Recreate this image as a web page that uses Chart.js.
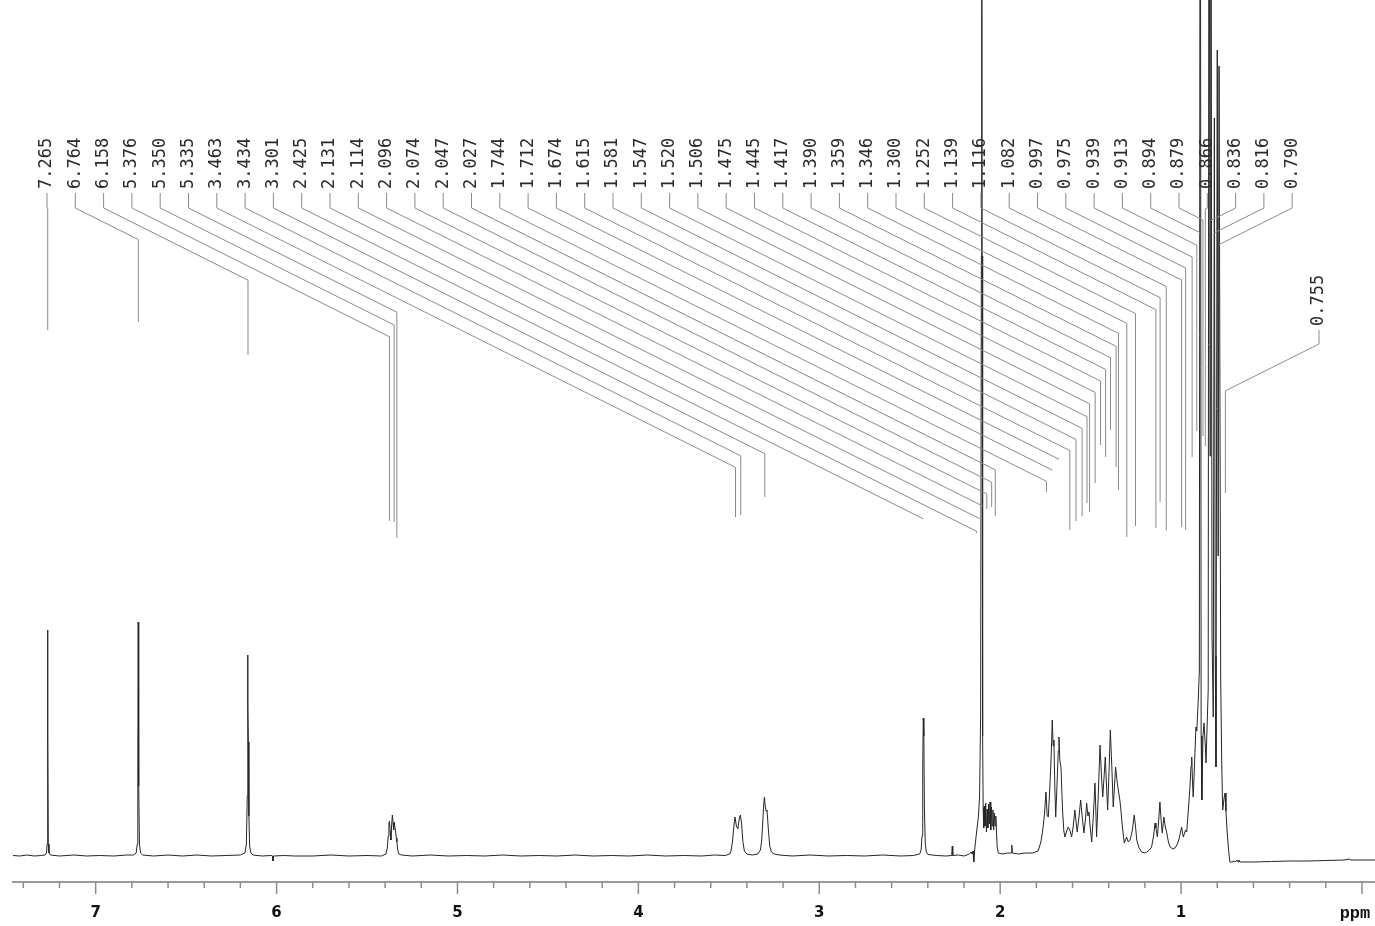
<!DOCTYPE html>
<html>
<head>
<meta charset="utf-8">
<title>1H NMR</title>
<script src="https://cdn.jsdelivr.net/npm/chart.js@4.4.1/dist/chart.umd.min.js"></script>
<style>
  html, body { margin: 0; padding: 0; background: #fff; }
  #wrap { width: 1375px; height: 926px; position: relative; }
</style>
</head>
<body>
<div id="wrap"><canvas id="nmr"></canvas></div>
<script>
// spectrum: [ppm, intensity] (0 = baseline)
const regionArom = [
  [7.457, 0.5], [7.42, 0], [7.38, 1], [7.34, 0], [7.30, 0.5], [7.280, 1], [7.272, 3], [7.268, 12],
  [7.266, 120], [7.265, 226], [7.264, 120], [7.262, 12], [7.258, 3], [7.250, 1], [7.20, 0], [7.12, 1],
  [7.05, 0], [6.98, 0.5], [6.90, 0], [6.83, 1], [6.79, 1], [6.776, 3], [6.770, 12], [6.767, 90],
  [6.765, 234], [6.763, 180], [6.761, 70], [6.758, 12], [6.752, 3], [6.74, 1], [6.68, 0], [6.60, 1],
  [6.52, 0], [6.44, 1], [6.36, 0], [6.28, 0.5], [6.20, 1], [6.175, 3], [6.167, 12], [6.162, 60],
  [6.160, 201], [6.158, 150], [6.156, 114], [6.153, 40], [6.149, 10], [6.142, 3], [6.13, 1], [6.08, 0],
  [6.03, 0.5], [6.022, 0], [6.020, -5], [6.018, 0], [5.96, 0.5], [5.90, 0]
];
const regionOlefin = [
  [5.80, 0], [5.70, 1], [5.60, 0], [5.50, 0.5], [5.42, 0], [5.395, 2], [5.388, 8], [5.383, 20],
  [5.379, 32], [5.376, 35], [5.372, 25], [5.368, 16], [5.364, 30], [5.360, 41], [5.356, 33], [5.353, 26],
  [5.350, 34], [5.347, 34], [5.342, 24], [5.338, 18], [5.335, 14], [5.330, 6], [5.324, 2], [5.31, 1],
  [5.25, 0], [5.15, 1], [5.05, 0], [4.95, 0.5], [4.85, 0], [4.75, 1], [4.65, 0], [4.55, 0.5],
  [4.45, 0], [4.35, 1], [4.25, 0], [4.15, 0.5], [4.05, 0], [3.95, 1], [3.85, 0], [3.75, 0.5],
  [3.65, 0], [3.58, 1], [3.52, 0.5]
];
const regionMid = [
  [3.495, 2], [3.488, 5], [3.480, 14], [3.472, 30], [3.466, 39], [3.458, 30], [3.450, 27], [3.442, 38],
  [3.436, 41], [3.430, 33], [3.422, 14], [3.414, 5], [3.40, 2], [3.37, 1], [3.34, 2], [3.325, 6],
  [3.318, 16], [3.312, 35], [3.307, 52], [3.303, 59], [3.299, 50], [3.294, 45], [3.289, 46], [3.282, 28],
  [3.274, 10], [3.265, 4], [3.25, 2], [3.22, 1], [3.15, 0], [3.05, 1], [2.95, 0], [2.85, 0.5],
  [2.75, 0], [2.65, 1], [2.55, 0], [2.48, 0.5], [2.445, 2], [2.437, 6], [2.432, 20], [2.428, 90],
  [2.425, 138], [2.422, 120], [2.419, 50], [2.414, 12], [2.408, 4], [2.40, 1.5], [2.35, 0.5], [2.30, 0],
  [2.268, 0.5], [2.265, 10], [2.262, 0.5], [2.23, 1], [2.20, 0], [2.17, 2], [2.160, 4], [2.155, 2],
  [2.150, 5], [2.146, -6], [2.140, 8], [2.131, 23], [2.120, 40], [2.114, 59], [2.108, 140], [2.104, 600],
  [2.102, 1300], [2.100, 600], [2.097, 120], [2.094, 48], [2.091, 28], [2.088, 50], [2.084, 30], [2.080, 53],
  [2.076, 24], [2.072, 47], [2.068, 28], [2.064, 52], [2.060, 32], [2.056, 54], [2.052, 26], [2.048, 49],
  [2.044, 30], [2.040, 46], [2.036, 26], [2.032, 43], [2.028, 30], [2.024, 40], [2.020, 22], [2.016, 8],
  [2.010, 3], [1.99, 2], [1.96, 3], [1.940, 3], [1.936, 11], [1.932, 3], [1.90, 2], [1.86, 3],
  [1.82, 3], [1.79, 5]
];
const regionAliph = [
  [1.775, 14], [1.768, 22], [1.762, 30], [1.755, 42], [1.747, 64], [1.740, 40], [1.734, 39], [1.725, 70],
  [1.718, 100], [1.712, 136], [1.707, 110], [1.703, 116], [1.698, 70], [1.693, 39], [1.685, 75], [1.679, 105],
  [1.675, 119], [1.670, 95], [1.664, 89], [1.655, 45], [1.648, 25], [1.642, 19], [1.634, 24], [1.624, 29],
  [1.615, 26], [1.605, 19], [1.596, 30], [1.587, 46], [1.581, 35], [1.574, 24], [1.565, 38], [1.555, 56],
  [1.547, 40], [1.537, 23], [1.528, 38], [1.522, 53], [1.515, 40], [1.509, 44], [1.502, 28], [1.494, 14],
  [1.485, 40], [1.476, 73], [1.471, 45], [1.467, 19], [1.458, 60], [1.448, 111], [1.440, 80], [1.433, 59],
  [1.426, 78], [1.419, 99], [1.412, 70], [1.406, 46], [1.398, 85], [1.391, 126], [1.383, 90], [1.375, 49],
  [1.368, 70], [1.362, 89], [1.354, 75], [1.347, 66], [1.340, 58], [1.334, 49], [1.325, 30], [1.314, 13],
  [1.307, 16], [1.301, 19], [1.292, 14], [1.282, 16], [1.270, 25], [1.259, 41], [1.252, 30], [1.245, 16],
  [1.232, 8], [1.218, 4], [1.200, 3], [1.190, 4], [1.175, 6], [1.163, 9], [1.152, 20], [1.144, 33],
  [1.139, 28], [1.131, 19], [1.124, 35], [1.117, 54], [1.110, 35], [1.104, 23], [1.095, 39], [1.088, 30],
  [1.080, 24], [1.070, 14], [1.061, 9], [1.045, 7], [1.034, 8], [1.020, 12], [1.010, 18], [0.997, 29],
  [0.988, 19], [0.975, 26], [0.969, 24], [0.960, 45], [0.951, 69], [0.945, 90], [0.941, 99], [0.937, 75],
  [0.933, 59], [0.925, 95], [0.918, 129], [0.913, 125], [0.905, 156], [0.899, 186], [0.894, 1300], [0.889, 120],
  [0.885, 56], [0.879, 120], [0.873, 133], [0.866, 110], [0.862, 93], [0.856, 130], [0.850, 166], [0.845, 1300],
  [0.840, 400], [0.836, 1300], [0.829, 220], [0.822, 139], [0.816, 738], [0.811, 200], [0.807, 89], [0.800, 806],
  [0.795, 300], [0.790, 790], [0.781, 176], [0.775, 90], [0.770, 46], [0.762, 58], [0.757, 63], [0.752, 45],
  [0.745, 23], [0.737, 5], [0.730, -6], [0.720, -6], [0.705, -5], [0.700, -6], [0.690, -4], [0.685, -6],
  [0.680, -4], [0.674, -6], [0.66, -6], [0.60, -6], [0.50, -5.5], [0.40, -5], [0.30, -5], [0.20, -4.5],
  [0.10, -4], [0.068, -3], [0.064, -4], [0.00, -4], [-0.072, -4]
];

// peak picking labels, left to right
const peakLabels = [
  '7.265', '6.764', '6.158', '5.376', '5.350', '5.335', '3.463', '3.434', '3.301', '2.425',
  '2.131', '2.114', '2.096', '2.074', '2.047', '2.027', '1.744', '1.712', '1.674', '1.615',
  '1.581', '1.547', '1.520', '1.506', '1.475', '1.445', '1.417', '1.390', '1.359', '1.346',
  '1.300', '1.252', '1.139', '1.116', '1.082', '0.997', '0.975', '0.939', '0.913', '0.894',
  '0.879', '0.866', '0.836', '0.816', '0.790'
];
const sideLabel = '0.755';

const xMin = -0.072;
const xMax = 7.457;

const spectrum = [].concat(regionArom, regionOlefin, regionMid, regionAliph);

function isMajor(v) {
  return Math.abs(v - Math.round(v)) < 1e-6;
}

// highest point of the trace close to a picked shift
function peakTop(ppm) {
  let best = -Infinity;
  for (let i = 0; i < spectrum.length; i++) {
    const p = spectrum[i];
    if (Math.abs(p[0] - ppm) <= 0.004) best = Math.max(best, p[1]);
    const q = spectrum[i + 1];
    if (q && p[0] >= ppm && q[0] <= ppm) {
      const t = (p[0] - ppm) / (p[0] - q[0] || 1);
      best = Math.max(best, p[1] + t * (q[1] - p[1]));
    }
  }
  return best;
}

const axisTicks = {
  id: 'axisTicks',
  afterDraw(chart) {
    const ctx = chart.ctx;
    const xs = chart.scales.x;
    const y0 = chart.chartArea.bottom;
    ctx.save();
    ctx.strokeStyle = '#8c8c8c';
    ctx.lineWidth = 1.5;
    xs.ticks.forEach(t => {
      const x = xs.getPixelForValue(t.value);
      const len = isMajor(t.value) ? 12 : 6;
      ctx.beginPath();
      ctx.moveTo(x, y0);
      ctx.lineTo(x, y0 + len);
      ctx.stroke();
    });
    ctx.fillStyle = '#111';
    ctx.font = 'bold 17px "Liberation Mono"';
    ctx.textAlign = 'center';
    ctx.textBaseline = 'alphabetic';
    ctx.fillText('ppm', xs.getPixelForValue(0) - 7, 918);
    ctx.restore();
  }
};

const peakLabelPlugin = {
  id: 'peakLabelPlugin',
  afterDatasetsDraw(chart) {
    const ctx = chart.ctx;
    const xs = chart.scales.x;
    const ys = chart.scales.y;
    const top = chart.chartArea.top;

    function connector(lx, textBottom, kneeTop, ppm) {
      const px = xs.getPixelForValue(ppm);
      const kneeY = kneeTop + Math.abs(px - lx) * 0.5;
      const h = peakTop(ppm);
      const tail = Math.max(kneeY, Math.max(top, ys.getPixelForValue(h)) - 300);
      ctx.beginPath();
      ctx.moveTo(lx, textBottom + 4);
      ctx.lineTo(lx, kneeTop);
      ctx.lineTo(px, kneeY);
      ctx.lineTo(px, tail);
      ctx.stroke();
    }

    function label(txt, lx, bottom) {
      ctx.save();
      ctx.translate(lx, bottom);
      ctx.rotate(-Math.PI / 2);
      ctx.fillText(txt, 0, 0);
      ctx.restore();
    }

    ctx.save();
    ctx.strokeStyle = '#8a8a8a';
    ctx.lineWidth = 1;
    ctx.fillStyle = '#2a2a2a';
    ctx.font = '17px "DejaVu Sans Mono"';
    ctx.textAlign = 'left';
    ctx.textBaseline = 'middle';

    const x0 = 47, dx = 28.3;
    peakLabels.forEach((txt, i) => {
      const lx = x0 + i * dx;
      label(txt, lx, 189);
      connector(lx, 189, 208, parseFloat(txt));
    });
    label(sideLabel, 1319, 326);
    connector(1319, 326, 344, parseFloat(sideLabel));
    ctx.restore();
  }
};

new Chart(document.getElementById('nmr'), {
  type: 'line',
  data: {
    datasets: [{
      data: spectrum.map(p => ({ x: p[0], y: p[1] })),
      borderColor: '#262626',
      borderWidth: 1,
      pointRadius: 0,
      tension: 0,
      fill: false
    }]
  },
  options: {
    responsive: true,
    maintainAspectRatio: false,
    animation: false,
    layout: { padding: { left: 13, right: 0, top: 0, bottom: 0 } },
    plugins: {
      legend: { display: false },
      tooltip: { enabled: false }
    },
    scales: {
      x: {
        type: 'linear',
        reverse: true,
        min: xMin,
        max: xMax,
        afterFit: s => { s.height = 44; },
        border: { display: true, color: '#9a9a9a', width: 2 },
        grid: { display: true, drawOnChartArea: false, drawTicks: true, tickLength: 12, tickColor: 'rgba(0,0,0,0)' },
        ticks: {
          stepSize: 0.2,
          autoSkip: false,
          maxRotation: 0,
          includeBounds: false,
          padding: 10,
          color: '#111',
          font: { family: 'DejaVu Sans', weight: 'bold', size: 15 },
          callback: v => (isMajor(v) && Math.round(v) !== 0) ? String(Math.round(v)) : ''
        }
      },
      y: { display: false, min: -26, max: 856 }
    }
  },
  plugins: [axisTicks, peakLabelPlugin]
});
</script>
</body>
</html>
